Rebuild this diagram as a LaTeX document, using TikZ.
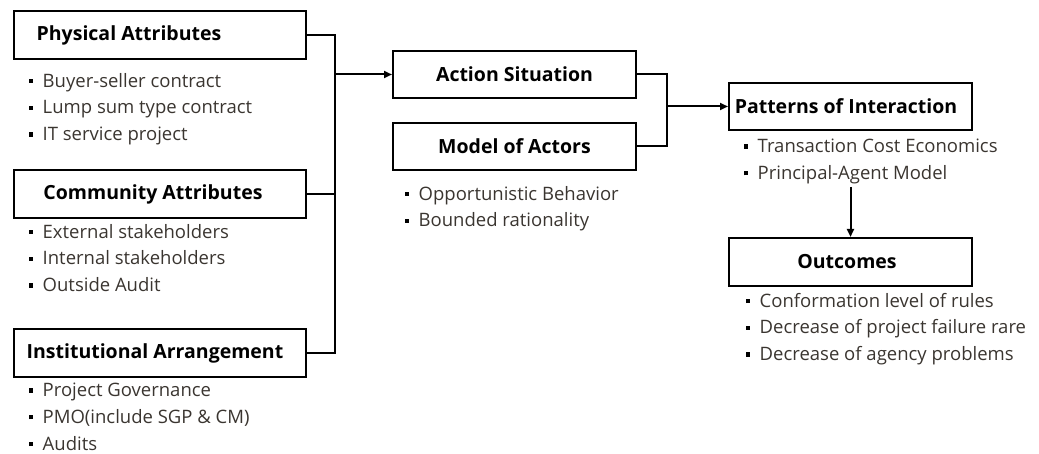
\documentclass[tikz,border=0pt]{standalone}
\usepackage{fontspec}
\setmainfont{Open Sans}
\usepackage{xcolor}
\usepackage{tikz}
\usetikzlibrary{arrows.meta}
\definecolor{itemgray}{HTML}{3A3530}
\tikzset{box/.style={draw, line width=2pt, minimum width=292pt, minimum height=48pt, inner sep=0pt, font=\fontsize{19.5}{22}\selectfont\bfseries},
  items/.style={anchor=north west, align=left, inner sep=0pt, text=itemgray, font=\fontsize{18.5}{26.8}\selectfont},
  link/.style={line width=2pt},
  >={Triangle[length=8pt,width=7pt]}}
\newcommand{\sqb}{\textcolor{black}{\rule[0.22em]{0.23em}{0.23em}}\hspace{0.5em}}

\begin{document}
\begin{tikzpicture}[x=1pt,y=-1pt]
    \path[use as bounding box] (0,0) rectangle (1039,454);

    \node[box] at (160,35) (phys) {\hspace*{-62pt}Physical Attributes};
    \node[items] at (29,72.8) (physlist) {\sqb Buyer-seller contract\\ \sqb Lump sum type contract\\ \sqb IT service project};

    \node[box] at (160,194) (comm) {\hspace*{-14pt}Community Attributes};
    \node[items] at (29,223.8) (commlist) {\sqb External stakeholders\\ \sqb Internal stakeholders\\ \sqb Outside Audit};

    \node[box] at (160,353) (inst) {\hspace*{-10pt}Institutional Arrangement};
    \node[items] at (29,382.8) (instlist) {\sqb Project Governance\\ \sqb PMO(include SGP \& CM)\\ \sqb Audits};

    \node[box, minimum width=243pt, minimum height=47pt] at (514.5,74.5) (act) {Action Situation};
    \node[box, minimum width=243pt, minimum height=47pt] at (514.5,146.5) (model) {Model of Actors};
    \node[items] at (405,185.8) (modellist) {\sqb Opportunistic Behavior\\ \sqb Bounded rationality};

    \node[box, minimum width=243pt, minimum height=47pt] at (850.5,106.5) (pat) {\hspace*{-9pt}Patterns of Interaction};
    \node[items] at (744,138.8) (patlist) {\sqb Transaction Cost Economics\\ \sqb Principal-Agent Model};

    \node[box, minimum width=243pt, minimum height=48pt] at (850.5,262) (out) {\hspace*{-7pt}Outcomes};
    \node[items] at (746,292.8) (outlist) {\sqb Conformation level of rules\\ \sqb Decrease of project failure rare\\ \sqb Decrease of agency problems};

    \coordinate (jA) at (335,74.5);
    \coordinate (jB) at (667,106.5);
    \draw[link] (phys.east) -| (jA) |- (inst.east);
    \draw[link] (comm.east) -- (comm.east -| jA);
    \draw[link,->] (jA) -- (act.west);
    \draw[link] (act.east) -| (jB) |- (model.east);
    \draw[link,->] (jB) -- (pat.west);
    \draw[link,->] (out.north |- 0,187) -- (out.north);
\end{tikzpicture}
\end{document}
